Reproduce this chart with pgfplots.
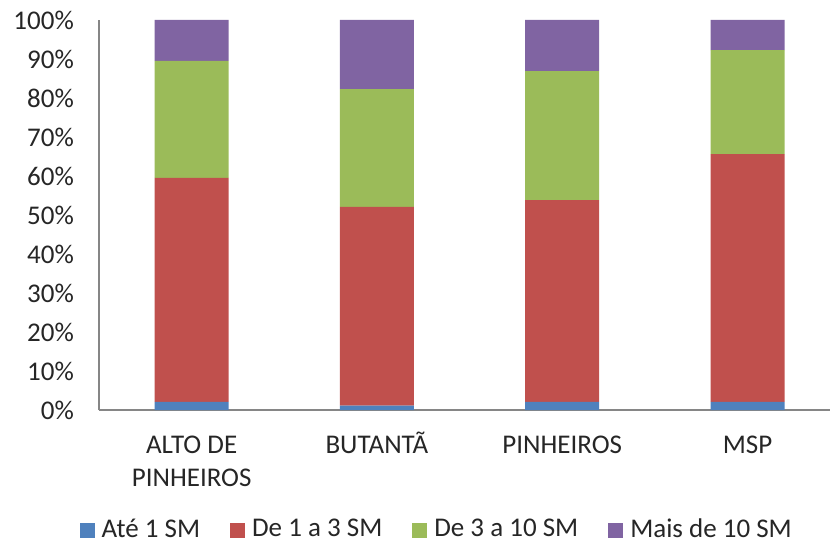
\documentclass[border=0pt]{standalone}
\usepackage{pgfplots}
\pgfplotsset{compat=1.18}
\usepackage{fontspec}
\setmainfont{Carlito}
\definecolor{cblue}{HTML}{4F81BD}
\definecolor{cred}{HTML}{C0504D}
\definecolor{cgreen}{HTML}{9BBB59}
\definecolor{cpurple}{HTML}{8064A2}
\definecolor{axgray}{HTML}{868686}
\definecolor{txt}{HTML}{262626}
\begin{document}
\fontsize{27bp}{33bp}\selectfont
\begin{tikzpicture}
\begin{axis}[
  scale only axis,
  width=731bp, height=390bp,
  ybar stacked,
  bar width=74bp,
  xmin=-0.5, xmax=3.445,
  ymin=0, ymax=100,
  axis x line*=bottom,
  axis y line*=left,
  axis line style={axgray, line width=1.2bp},
  xtick={0,1,2,3},
  xticklabels={{\strut ALTO DE\\PINHEIROS},{\strut BUTANTÃ},{\strut PINHEIROS},{\strut MSP}},
  xticklabel style={align=center, anchor=north, yshift=-20bp, inner sep=0pt, font=\fontsize{27bp}{33bp}\selectfont},
  major x tick style={draw=none},
  extra x ticks={-0.5,0.5,1.5,2.5},
  extra x tick labels={},
  extra x tick style={major tick length=8bp, xtick align=outside, tick style={axgray, line width=1.2bp}},
  ytick={0,10,...,100},
  yticklabel={\pgfmathprintnumber{\tick}\%},
  yticklabel style={inner sep=0pt, xshift=-25bp},
  major y tick style={draw=none},
  /pgf/number format/assume math mode=true,
  tick label style={font=\fontsize{27bp}{33bp}\selectfont, text=txt},
  legend style={draw=none, at={(0.462,-0.308)}, anchor=center, legend columns=4,
    font=\fontsize{27bp}{33bp}\selectfont, text=txt, inner sep=0pt,
    /tikz/every odd column/.append style={column sep=5bp},
    /tikz/every even column/.append style={column sep=28bp}},
  legend image code/.code={\fill[#1] (0bp,-7.5bp) rectangle (15bp,7.5bp);},
  legend cell align=left,
]
\addplot[fill=cblue, draw=none] coordinates {(0,2.1) (1,1.1) (2,2.1) (3,2.1)};
\addplot[fill=cred, draw=none] coordinates {(0,57.4) (1,51.0) (2,51.7) (3,63.5)};
\addplot[fill=cgreen, draw=none] coordinates {(0,30.0) (1,30.2) (2,33.1) (3,26.7)};
\addplot[fill=cpurple, draw=none] coordinates {(0,10.5) (1,17.7) (2,13.1) (3,7.7)};
\legend{Até 1 SM, De 1 a 3 SM, De 3 a 10 SM, Mais de 10 SM}
\end{axis}
\pgfresetboundingbox
\useasboundingbox (current axis.south west) ++(-99bp,-137bp) rectangle ++(831bp,547bp);
\end{tikzpicture}
\end{document}
